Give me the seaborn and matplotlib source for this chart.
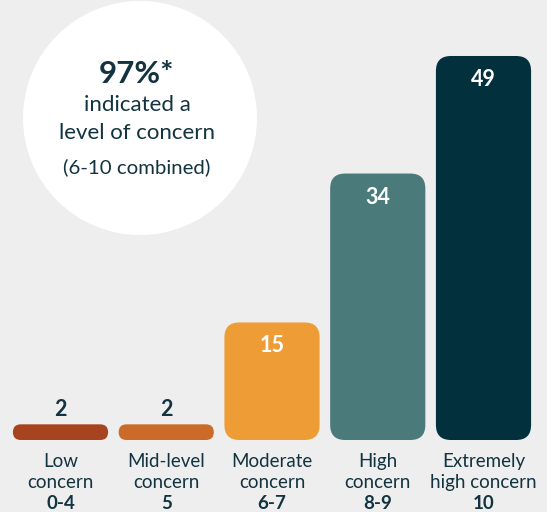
import matplotlib
matplotlib.use("Agg")
import matplotlib.pyplot as plt
from matplotlib.patches import FancyBboxPatch, Ellipse
import seaborn as sns
import pandas as pd

categories = ["Low concern 0-4", "Mid-level concern 5", "Moderate concern 6-7",
              "High concern 8-9", "Extremely high concern 10"]
label_line1 = ["Low", "Mid-level", "Moderate", "High", "Extremely"]
label_line2 = ["concern", "concern", "concern", "concern", "high concern"]
label_line3 = ["0-4", "5", "6-7", "8-9", "10"]
values = [2, 2, 15, 34, 49]
colors = ["#A8431F", "#CC6A2A", "#EE9C35", "#4A7A7A", "#03303D"]
callout_big = "97%*"
callout_lines = ["indicated a", "level of concern"]
callout_small = "(6-10 combined)"

BG = "#EEEEEE"
TXT = "#12333F"
FONT = "Lato"

sns.set_theme(style="white")
plt.rcParams["font.family"] = [FONT, "DejaVu Sans"]

W, H = 547, 512
fig = plt.figure(figsize=(W / 100, H / 100), dpi=100, facecolor=BG)
ax = fig.add_axes([0, 0, 1, 1])
ax.set_facecolor("none")

px_x = 105.75          # px per category
px_y = 7.837           # px per unit
base_px = 440          # baseline of bars (from top)
x0_px = 60.5           # center of first bar

df = pd.DataFrame({"cat": categories, "val": values})
sns.barplot(data=df, x="cat", y="val", hue="cat", palette=colors, width=0.9,
            legend=False, ax=ax, linewidth=0)

ax.set_xlim(-x0_px / px_x, (W - x0_px) / px_x)
ax.set_ylim(-(H - base_px) / px_y, base_px / px_y)
ax.axis("off")

asp = px_x / px_y
for p, col in zip(list(ax.patches), colors):
    x, w, h = p.get_x(), p.get_width(), p.get_height()
    p.remove()
    r_px = min(15, h * px_y / 2)
    fb = FancyBboxPatch((x, 0), w, h,
                        boxstyle=f"round,pad=0,rounding_size={r_px / px_x}",
                        mutation_aspect=asp, facecolor=col, edgecolor="none",
                        linewidth=0)
    ax.add_patch(fb)

for i, v in enumerate(values):
    if v >= 10:
        ax.text(i, v - 30 / px_y, str(v), ha="center", va="baseline",
                color="white", fontsize=15.5, fontweight="bold")
    else:
        ax.text(i, v + 8 / px_y, str(v), ha="center", va="baseline",
                color=TXT, fontsize=15.5, fontweight="bold")
    ax.text(i, -(467 - base_px) / px_y, label_line1[i], ha="center", va="baseline",
            color=TXT, fontsize=13.5)
    ax.text(i, -(488 - base_px) / px_y, label_line2[i], ha="center", va="baseline",
            color=TXT, fontsize=13.5)
    ax.text(i, -(509 - base_px) / px_y, label_line3[i], ha="center", va="baseline",
            color=TXT, fontsize=13.5, fontweight="bold")

# callout circle
cx, cy, r = 140, 118, 117
circ = Ellipse((cx / W, 1 - cy / H), 2 * r / W, 2 * r / H,
               transform=fig.transFigure, facecolor="white", edgecolor="none", zorder=0)
fig.patches.append(circ)

tx = 137 / W
fig.text(tx, 1 - 83 / H, callout_big, ha="center", va="baseline", color=TXT,
         fontsize=22.5, fontweight="bold")
fig.text(tx, 1 - 111 / H, callout_lines[0], ha="center", va="baseline", color=TXT,
         fontsize=16)
fig.text(tx, 1 - 139 / H, callout_lines[1], ha="center", va="baseline", color=TXT,
         fontsize=16)
fig.text(tx, 1 - 173 / H, callout_small, ha="center", va="baseline", color=TXT,
         fontsize=14.7)

fig.savefig("out.png", dpi=100, facecolor=BG)
